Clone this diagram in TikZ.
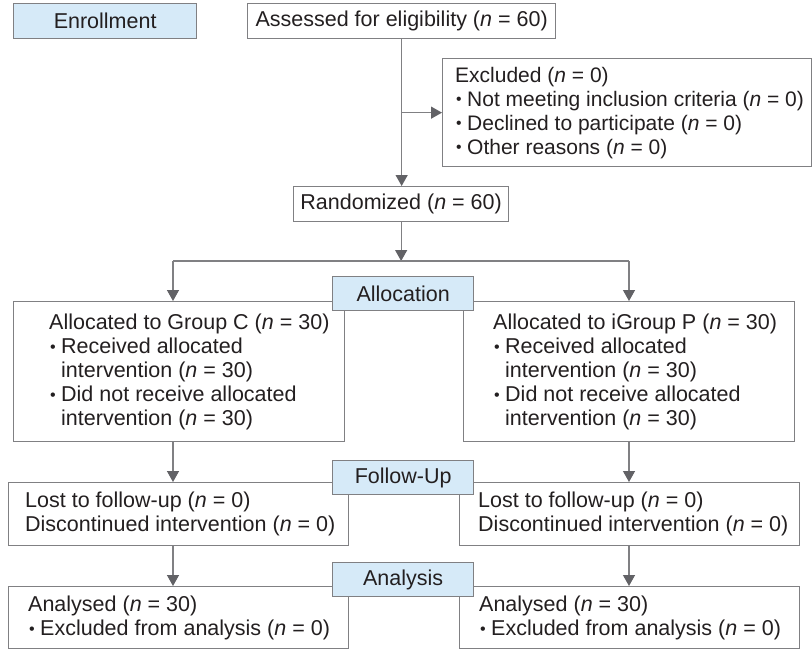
\documentclass[tikz,border=0pt]{standalone}
\usepackage{fontspec}
\setmainfont{Liberation Sans}
\usetikzlibrary{arrows.meta}
\usetikzlibrary{calc}
\definecolor{linegray}{RGB}{128,128,131}
\definecolor{tipgray}{RGB}{98,98,102}
\definecolor{stageblue}{RGB}{214,234,248}
\definecolor{textgray}{RGB}{35,31,32}
\tikzstyle{box}=[draw=linegray, line width=1.3pt, fill=white, anchor=north west, inner sep=0pt, text=textgray]
\tikzstyle{stagebox}=[box, fill=stageblue, minimum width=141pt, minimum height=34pt]
\tikzstyle{txt}=[anchor=west, align=left, inner sep=0pt, text=textgray]
\tikzstyle{flowline}=[draw=linegray, line width=1.3pt]
\tikzstyle{flowarrow}=[flowline, -{Triangle[width=12pt,length=11pt,color=tipgray]}]
\newcommand{\blt}{\makebox[12pt][l]{\hspace{1pt}\raisebox{1.2pt}{\scalebox{0.75}{\textbullet}}}}
\newcommand{\cnt}{\hspace*{12pt}}
\newcommand{\nn}{(\textit{n} = }

\begin{document}
\begin{tikzpicture}[x=1pt, y=1pt, font=\fontsize{21.5}{24}\selectfont]
    \useasboundingbox (0,0) rectangle (812,-649);
    % Enrollment
    \node[stagebox, minimum width=183pt, minimum height=35pt] (enroll) at (13,-3) {Enrollment};
    \node[box, minimum width=308pt, minimum height=35pt] (assess) at (247,-3) {Assessed for eligibility \nn 60)};
    \node[box, minimum width=369pt, minimum height=108pt] (excl) at (442,-58) {};
    \node[txt, font=\fontsize{21}{24}\selectfont] (exclTxt) at ([xshift=13pt]excl.west) {Excluded \nn 0)\\ \blt Not meeting inclusion criteria \nn 0)\\ \blt Declined to participate \nn 0)\\ \blt Other reasons \nn 0)};
    \node[box, minimum width=215pt, minimum height=35pt] (rand) at (293,-186) {Randomized \nn 60)};

    % Allocation
    \node[box, minimum width=331pt, minimum height=140pt] (grpC) at (13,-301) {};
    \node[box, minimum width=331pt, minimum height=140pt] (grpP) at (463,-301) {};
    \node[txt] (grpCTxt) at ([xshift=36pt]grpC.west) {Allocated to Group C \nn 30)\\ \blt Received allocated\\ \cnt intervention \nn 30)\\ \blt Did not receive allocated\\ \cnt intervention \nn 30)};
    \node[txt] (grpPTxt) at ([xshift=30pt]grpP.west) {Allocated to iGroup P \nn 30)\\ \blt Received allocated\\ \cnt intervention \nn 30)\\ \blt Did not receive allocated\\ \cnt intervention \nn 30)};

    % Follow-up and analysis
    \node[box, minimum width=340pt, minimum height=63pt] (fuC) at (8,-482) {};
    \node[box, minimum width=340pt, minimum height=63pt] (fuP) at (459,-482) {};
    \node[txt] (fuCTxt) at ([xshift=17pt]fuC.west) {Lost to follow-up \nn 0)\\ Discontinued intervention \nn 0)};
    \node[txt] (fuPTxt) at ([xshift=19pt]fuP.west) {Lost to follow-up \nn 0)\\ Discontinued intervention \nn 0)};
    \node[box, minimum width=340pt, minimum height=62pt] (anC) at (8,-586) {};
    \node[box, minimum width=340pt, minimum height=62pt] (anP) at (459,-586) {};
    \node[txt] (anCTxt) at ([xshift=20pt]anC.west) {Analysed \nn 30)\\ \blt Excluded from analysis \nn 0)};
    \node[txt] (anPTxt) at ([xshift=20pt]anP.west) {Analysed \nn 30)\\ \blt Excluded from analysis \nn 0)};

    % stage labels on top
    \foreach \pos/\name/\stage in {{(332,-276)/alloc/Allocation}, {(332,-460)/follow/Follow-Up}, {(332,-562)/analysis/Analysis}}
        \node[stagebox] (\name) at \pos {\stage};

    % connectors
    \coordinate (splitL) at (173,-261);
    \coordinate (splitR) at (629,-261);
    \draw[flowarrow] (assess.south) -- (assess.south |- rand.north);
    \draw[flowarrow] (assess.south |- excl.west) -- (excl.west);
    \draw[flowarrow] (rand.south) -- (rand.south |- splitL);
    \draw[flowline] (splitL) -- (splitR);
    \foreach \split/\grp/\fu/\an in {splitL/grpC/fuC/anC, splitR/grpP/fuP/anP} {
        \draw[flowarrow] (\split) -- (\split |- \grp.north);
        \draw[flowarrow] (\split |- \grp.south) -- (\split |- \fu.north);
        \draw[flowarrow] (\split |- \fu.south) -- (\split |- \an.north);
    }
\end{tikzpicture}
\end{document}
